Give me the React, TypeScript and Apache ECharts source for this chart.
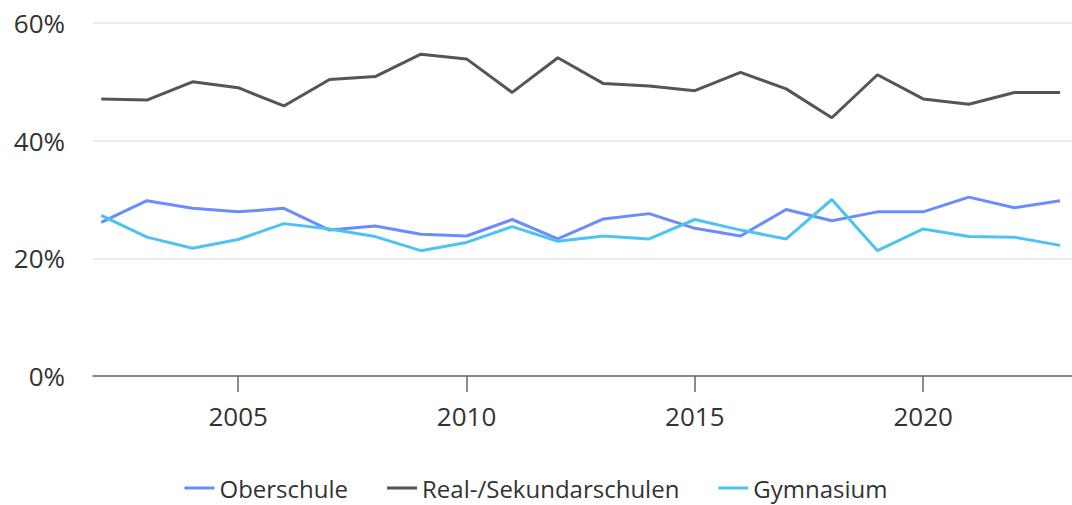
import React, { useEffect, useRef } from "react";
import * as echarts from "echarts";

const years = [2002, 2003, 2004, 2005, 2006, 2007, 2008, 2009, 2010, 2011, 2012, 2013, 2014, 2015, 2016, 2017, 2018, 2019, 2020, 2021, 2022, 2023];
const oberschule = [26.1, 29.8, 28.5, 27.9, 28.5, 24.8, 25.5, 24.1, 23.8, 26.6, 23.3, 26.7, 27.6, 25.1, 23.8, 28.3, 26.4, 27.9, 27.9, 30.4, 28.6, 29.8];
const realSekundar = [47.1, 46.9, 50.0, 49.0, 45.9, 50.4, 50.9, 54.7, 53.9, 48.2, 54.1, 49.7, 49.3, 48.5, 51.6, 48.8, 43.9, 51.2, 47.1, 46.2, 48.2, 48.2];
const gymnasium = [27.3, 23.6, 21.7, 23.2, 25.9, 25.0, 23.7, 21.3, 22.7, 25.4, 22.9, 23.8, 23.3, 26.6, 24.8, 23.3, 30.0, 21.3, 25.0, 23.7, 23.6, 22.2];
const xTicks = [2005, 2010, 2015, 2020];
const seriesNames = ["Oberschule", "Real-/Sekundarschulen", "Gymnasium"];
const seriesColors = ["#6b8cfd", "#555555", "#4dc4ef"];

const FONT = "'Open Sans', sans-serif";

export default function App() {
  const ref = useRef<HTMLDivElement>(null);
  useEffect(() => {
    document.body.style.margin = "0";
    const chart = echarts.init(ref.current!, undefined, { renderer: "svg" });
    const values = [oberschule, realSekundar, gymnasium];
    chart.setOption({
      animation: false,
      backgroundColor: "#ffffff",
      textStyle: { fontFamily: FONT },
      grid: { left: 93, right: 0, top: 23, bottom: 129, containLabel: false },
      legend: {
        bottom: 0,
        left: "center",
        icon: "rect",
        itemWidth: 30,
        itemHeight: 3,
        itemGap: 39,
        textStyle: { fontFamily: FONT, fontSize: 24, color: "#333333" },
        data: seriesNames,
      },
      xAxis: {
        type: "value",
        min: 2001.82,
        max: 2023.26,
        splitLine: { show: false },
        axisLine: { show: true, lineStyle: { color: "#666666", width: 1.5 } },
        axisTick: { show: true, length: 16, customValues: xTicks, lineStyle: { color: "#666666", width: 1.5 } },
        axisLabel: {
          customValues: xTicks,
          margin: 27,
          fontFamily: FONT,
          fontSize: 26,
          color: "#333333",
          formatter: (v: number) => String(v),
        },
      },
      yAxis: {
        type: "value",
        min: 0,
        max: 60,
        interval: 20,
        axisLine: { show: false },
        axisTick: { show: false },
        splitLine: { lineStyle: { color: "#e6e6e6", width: 1.5 } },
        axisLabel: {
          margin: 28,
          fontFamily: FONT,
          fontSize: 26,
          color: "#333333",
          formatter: "{value}%",
        },
      },
      series: seriesNames.map((name, i) => ({
        name,
        type: "line",
        symbol: "none",
        data: years.map((y, j) => [y, values[i][j]]),
        lineStyle: { width: 3, color: seriesColors[i] },
        itemStyle: { color: seriesColors[i] },
      })),
    });
    return () => chart.dispose();
  }, []);
  return <div ref={ref} style={{ width: 1072, height: 505 }} />;
}
